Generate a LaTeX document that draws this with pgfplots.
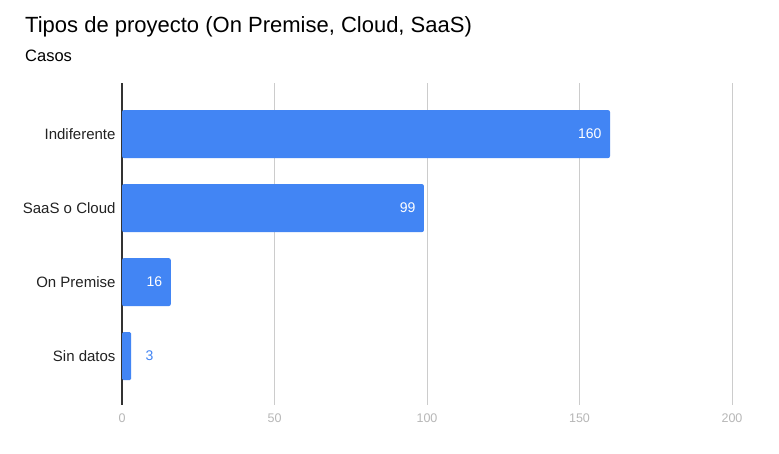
\documentclass[border=0pt]{standalone}
\usepackage{pgfplots}
\pgfplotsset{compat=1.18}
\usepackage{fontspec}
\setmainfont{Liberation Sans}
\definecolor{barblue}{HTML}{4285F4}
\definecolor{gridgray}{HTML}{CCCCCC}
\definecolor{ticklabel}{HTML}{B7B7B7}
\definecolor{axisdark}{HTML}{333333}
\definecolor{textdark}{HTML}{222222}

\begin{document}
\begin{tikzpicture}[x=1pt,y=1pt]
\useasboundingbox[fill=white] (0,0) rectangle (779,453);
\node[anchor=base west, font=\fontsize{22}{26}\selectfont, text=black, inner sep=0]
  at (25,420) {Tipos de proyecto (On Premise, Cloud, SaaS)};
\node[anchor=base west, font=\fontsize{16.5}{19}\selectfont, text=black, inner sep=0]
  at (25,391) {Casos};
\begin{axis}[
  at={(122pt,48pt)}, anchor=south west,
  scale only axis, width=610pt, height=322pt,
  xbar, bar width=48pt, bar shift=0pt,
  xmin=0, xmax=200,
  ymin=-0.69, ymax=3.66, y dir=reverse,
  ytick={0,1,2,3},
  yticklabels={Indiferente, SaaS o Cloud, On Premise, Sin datos},
  xtick={0,50,100,150,200},
  major tick length=0pt,
  axis y line*=left, axis x line*=bottom,
  x axis line style={draw=none},
  y axis line style={draw=axisdark, line width=1.1pt},
  xmajorgrids, grid style={draw=gridgray, line width=0.8pt},
  y tick label style={font=\fontsize{15}{18}\selectfont, text=textdark, xshift=-3pt},
  x tick label style={font=\fontsize{12.5}{15}\selectfont, text=ticklabel, yshift=-5pt},
  /pgf/number format/assume math mode=true,
]
% bars wide enough to hold their value label
\addplot[fill=barblue, draw=none, rounded corners=2pt,
  nodes near coords, nodes near coords align=horizontal,
  every node near coord/.append style={anchor=east, text=white, xshift=-5pt,
    font=\fontsize{14}{17}\selectfont}]
  coordinates {(160,0) (99,1) (16,2)};
% short bar, value written beside it
\addplot[fill=barblue, draw=none, rounded corners=1.5pt,
  nodes near coords, nodes near coords align=horizontal,
  every node near coord/.append style={anchor=west, text=barblue, xshift=11pt,
    font=\fontsize{14}{17}\selectfont}]
  coordinates {(3,3)};
\end{axis}
\end{tikzpicture}
\end{document}
